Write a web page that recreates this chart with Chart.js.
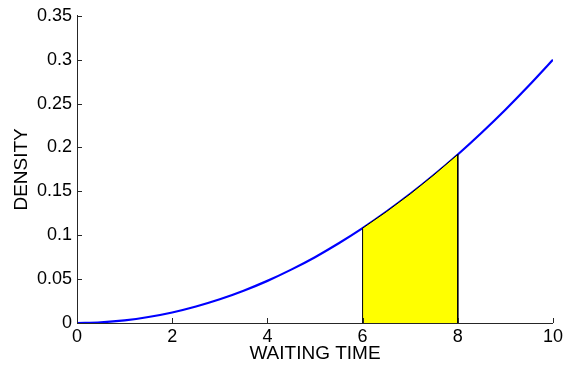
<!DOCTYPE html>
<html>
<head>
<meta charset="utf-8">
<script src="https://cdn.jsdelivr.net/npm/chart.js@4.4.1/dist/chart.umd.min.js"></script>
<style>
  html, body { margin: 0; padding: 0; background: #fff; }
  #wrap { width: 566px; height: 367px; }
</style>
</head>
<body>
<div id="wrap"><canvas id="density-chart" width="566" height="367"></canvas></div>
<script>
// waiting time grid and density
const waitTimes = [0, 0.5, 1, 1.5, 2, 2.5, 3, 3.5, 4, 4.5, 5, 5.5, 6, 6.5, 7, 7.5, 8, 8.5, 9, 9.5, 10];
const densities = [0, 0.0008, 0.003, 0.0068, 0.012, 0.0188, 0.027, 0.0368, 0.048, 0.0608, 0.075,
  0.0908, 0.108, 0.1268, 0.147, 0.1688, 0.192, 0.2168, 0.243, 0.2708, 0.3];

// shaded interval under the curve
const shadeTimes = [6, 6, 6.5, 7, 7.5, 8, 8];
const shadeDensities = [0, 0.108, 0.1268, 0.147, 0.1688, 0.192, 0];

const xTicks = [0, 2, 4, 6, 8, 10];
const yTicks = [0, 0.05, 0.1, 0.15, 0.2, 0.25, 0.3, 0.35];

const axisColor = "#262626";

const curvePoints = waitTimes.map((t, i) => ({ x: t, y: densities[i] }));
const shadePoints = shadeTimes.map((t, i) => ({ x: t, y: shadeDensities[i] }));

// matlab-style tick marks pointing into the plot
const innerTicks = {
  id: "innerTicks",
  afterDraw(chart) {
    const { ctx, scales: { x, y } } = chart;
    ctx.save();
    ctx.strokeStyle = axisColor;
    ctx.lineWidth = 1;
    ctx.beginPath();
    xTicks.forEach((v) => {
      const px = Math.round(x.getPixelForValue(v)) + 0.5;
      ctx.moveTo(px, y.bottom);
      ctx.lineTo(px, y.bottom - 5);
    });
    yTicks.forEach((v) => {
      const py = Math.round(y.getPixelForValue(v)) + 0.5;
      ctx.moveTo(x.left, py);
      ctx.lineTo(x.left + 5, py);
    });
    ctx.stroke();
    ctx.restore();
  },
};

const ctx = document.getElementById("density-chart").getContext("2d");
new Chart(ctx, {
  type: "scatter",
  data: {
    datasets: [
      {
        data: curvePoints,
        showLine: true,
        borderColor: "#0000ff",
        borderWidth: 2.2,
        pointRadius: 0,
        cubicInterpolationMode: "monotone",
        fill: false,
        order: 2,
      },
      {
        data: shadePoints,
        showLine: true,
        borderColor: "#000000",
        borderWidth: 1,
        backgroundColor: "#ffff00",
        pointRadius: 0,
        fill: "origin",
        order: 1,
      },
    ],
  },
  options: {
    responsive: false,
    animation: false,
    layout: { padding: { left: 0, top: 15, right: 13, bottom: 0 } },
    plugins: {
      legend: { display: false },
      tooltip: { enabled: false },
    },
    scales: {
      x: {
        type: "linear",
        min: 0,
        max: 10,
        afterBuildTicks: (scale) => { scale.ticks = xTicks.map((v) => ({ value: v })); },
        afterFit: (scale) => { scale.height = 44; },
        grid: { drawOnChartArea: false, drawTicks: false },
        border: { color: axisColor, width: 1 },
        ticks: {
          color: "#000",
          padding: 3,
          maxRotation: 0,
          font: { family: "Liberation Sans", size: 18 },
        },
        title: {
          display: true,
          text: "WAITING TIME",
          color: "#000",
          padding: { top: 0, bottom: 2 },
          font: { family: "Liberation Sans", size: 19 },
        },
      },
      y: {
        type: "linear",
        min: 0,
        max: 0.35,
        afterBuildTicks: (scale) => { scale.ticks = yTicks.map((v) => ({ value: v })); },
        afterFit: (scale) => { scale.width = 77; },
        grid: { drawOnChartArea: false, drawTicks: false },
        border: { color: axisColor, width: 1 },
        ticks: {
          color: "#000",
          padding: 5,
          font: { family: "Liberation Sans", size: 18 },
          callback: (v) => String(Math.round(v * 100) / 100),
        },
        title: {
          display: true,
          text: "DENSITY",
          color: "#000",
          padding: { top: 10, bottom: 0 },
          font: { family: "Liberation Sans", size: 19 },
        },
      },
    },
  },
  plugins: [innerTicks],
});
</script>
</body>
</html>
